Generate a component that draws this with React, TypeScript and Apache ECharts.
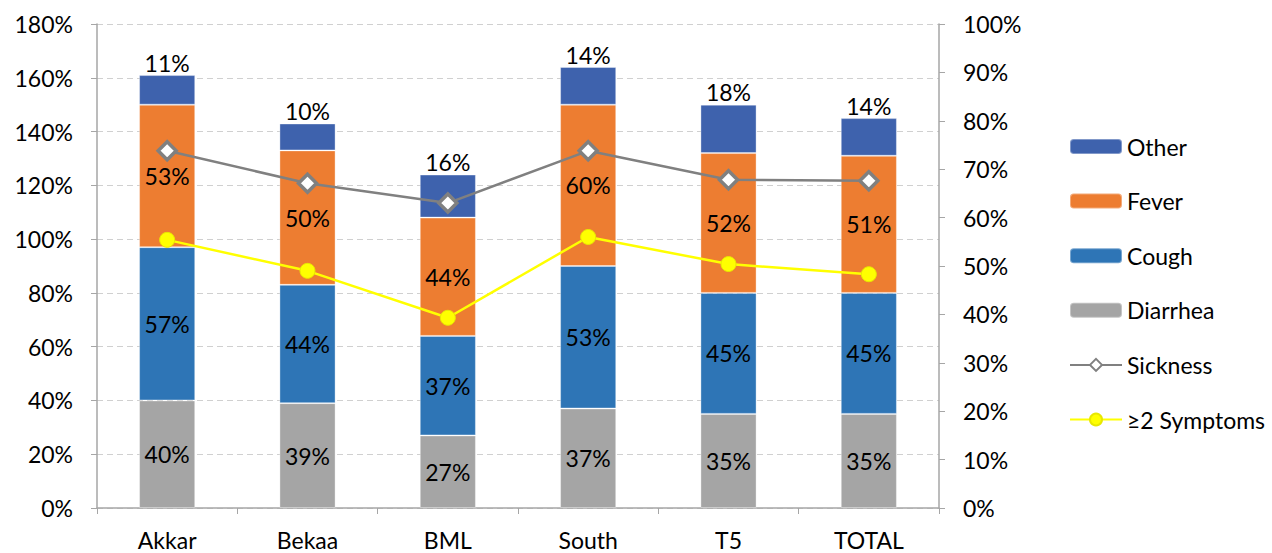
import React, { useEffect, useRef } from "react";
import * as echarts from "echarts";

const categories = ["Akkar", "Bekaa", "BML", "South", "T5", "TOTAL"];
const diarrhea = [40, 39, 27, 37, 35, 35];
const cough = [57, 44, 37, 53, 45, 45];
const fever = [53, 50, 44, 60, 52, 51];
const other = [11, 10, 16, 14, 18, 14];
const sickness = [73.8, 67.1, 63.0, 73.8, 67.8, 67.6];
const twoSymptoms = [55.4, 49.0, 39.3, 56.0, 50.4, 48.3];
const leftTicks = { min: 0, max: 180, interval: 20 };
const rightTicks = { min: 0, max: 100, interval: 10 };

const FONT = "Lato";
const FS = 23;

export default function App() {
  const ref = useRef<HTMLDivElement>(null);
  useEffect(() => {
    if (!ref.current) return;
    const chart = echarts.init(ref.current, undefined, { renderer: "svg" });
    const axisColor = "#A6A6A6";
    const barLabel = {
      show: true,
      position: "inside" as const,
      color: "#000",
      fontFamily: FONT,
      fontSize: FS,
      formatter: (p: any) => `${Math.round(p.value)}%`,
    };
    const mkBar = (name: string, data: number[], color: string, top = false) => ({
      name,
      type: "bar",
      stack: "s",
      data,
      barWidth: "40%",
      itemStyle: { color, borderColor: "rgba(255,255,255,0.35)", borderWidth: 1 },
      label: top ? { ...barLabel, position: "top", distance: 1 } : barLabel,
    });
    chart.setOption({
      animation: false,
      textStyle: { fontFamily: FONT },
      grid: { left: 97, right: 333, top: 24, bottom: 45, containLabel: false },
      legend: {
        orient: "vertical",
        left: 1064,
        top: 130,
        itemWidth: 52,
        itemHeight: 15,
        itemGap: 31.6,
        textStyle: { fontFamily: FONT, fontSize: FS, color: "#000" },
        data: ["Other", "Fever", "Cough", "Diarrhea", "Sickness", "≥2 Symptoms"],
      },
      xAxis: {
        type: "category",
        data: categories,
        axisLine: { lineStyle: { color: axisColor, width: 1.5 } },
        axisTick: { show: true, length: 6, lineStyle: { color: axisColor } },
        axisLabel: { color: "#000", fontSize: FS, fontFamily: FONT, margin: 20 },
      },
      yAxis: [
        {
          type: "value",
          ...leftTicks,
          position: "left",
          axisLine: { show: true, lineStyle: { color: axisColor, width: 1.5 } },
          axisTick: { show: true, length: 6, lineStyle: { color: axisColor } },
          axisLabel: { color: "#000", fontSize: FS, fontFamily: FONT, margin: 24, formatter: "{value}%" },
          splitLine: { show: true, lineStyle: { color: "#D0D0D0", type: [6, 4], width: 1 } },
        },
        {
          type: "value",
          ...rightTicks,
          position: "right",
          axisLine: { show: true, lineStyle: { color: axisColor, width: 1.5 } },
          axisTick: { show: true, length: 6, lineStyle: { color: axisColor } },
          axisLabel: { color: "#000", fontSize: FS, fontFamily: FONT, margin: 24, formatter: "{value}%" },
          splitLine: { show: false },
        },
      ],
      series: [
        mkBar("Diarrhea", diarrhea, "#A5A5A5"),
        mkBar("Cough", cough, "#2E75B6"),
        mkBar("Fever", fever, "#ED7D31"),
        mkBar("Other", other, "#3E62AD", true),
        {
          name: "Sickness",
          type: "line",
          yAxisIndex: 1,
          data: sickness,
          symbol: "diamond",
          symbolSize: 18,
          lineStyle: { color: "#808080", width: 2.5 },
          itemStyle: { color: "#FFFFFF", borderColor: "#808080", borderWidth: 3.5 },
          z: 5,
        },
        {
          name: "≥2 Symptoms",
          type: "line",
          yAxisIndex: 1,
          data: twoSymptoms,
          symbol: "circle",
          symbolSize: 15,
          lineStyle: { color: "#FFFF00", width: 2.5 },
          itemStyle: { color: "#FFFF00", borderColor: "#E8E800", borderWidth: 1 },
          z: 5,
        },
      ],
    });
    return () => chart.dispose();
  }, []);
  return (
    <div
      ref={ref}
      style={{ position: "fixed", left: 0, top: 0, width: 1272, height: 553, background: "#fff" }}
    />
  );
}
